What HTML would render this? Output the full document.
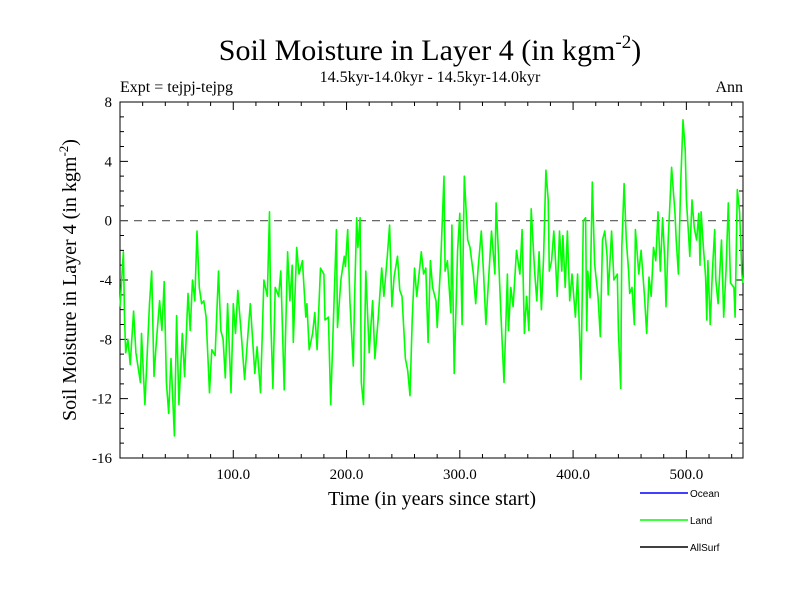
<!DOCTYPE html>
<html><head><meta charset="utf-8"><style>
html,body{margin:0;padding:0;background:#fff;}
svg text{font-family:"Liberation Serif",serif;}
</style></head><body>
<svg id="chart" width="800" height="600" xmlns="http://www.w3.org/2000/svg">
<text x="430" y="60" font-size="30" text-anchor="middle">Soil Moisture in Layer 4 (in kgm<tspan font-size="19" dy="-12">-2</tspan><tspan dy="12">)</tspan></text>
<text x="430" y="82" font-size="16" text-anchor="middle">14.5kyr-14.0kyr - 14.5kyr-14.0kyr</text>
<text x="120" y="92" font-size="16">Expt = tejpj-tejpg</text>
<text x="743" y="92" font-size="16" text-anchor="end">Ann</text>
<g id="axes"></g>
<g id="series"></g>
<text x="432" y="505" font-size="20" text-anchor="middle">Time (in years since start)</text>
<text transform="translate(76,280) rotate(-90)" font-size="20" text-anchor="middle">Soil Moisture in Layer 4 (in kgm<tspan font-size="13" dy="-8">-2</tspan><tspan dy="8">)</tspan></text>
<g font-family="Liberation Sans, sans-serif">
<line x1="640" y1="493" x2="688" y2="493" stroke="#0000ff" stroke-width="1.5"/>
<text x="690" y="497" font-size="10" style="font-family:'Liberation Sans',sans-serif">Ocean</text>
<line x1="640" y1="520" x2="688" y2="520" stroke="#00ff00" stroke-width="1.5"/>
<text x="690" y="524" font-size="10" style="font-family:'Liberation Sans',sans-serif">Land</text>
<line x1="640" y1="547" x2="688" y2="547" stroke="#000" stroke-width="1.5"/>
<text x="690" y="551" font-size="10" style="font-family:'Liberation Sans',sans-serif">AllSurf</text>
</g>
</svg>
<script>
const years=[0,3,4,5,7,9,12,14,18,19,22,26,28,30,32,35,37,39,41,43,45,48,50,52,55,57,60,62,64,66,68,70,72,74,76,79,81,84,87,89,91,93,95,98,100,102,104,107,110,113,115,119,121,124,127,130,132,133,135,137,140,142,145,148,150,152,153,156,158,161,164,165,167,170,172,174,177,180,181,184,186,188,191,192,195,198,199,201,203,206,207,209,210,212,213,215,217,220,222,223,225,228,231,233,236,238,240,242,245,247,249,252,254,256,258,260,262,266,268,270,272,274,276,279,280,283,286,287,289,292,293,295,298,300,302,304,307,309,312,314,316,319,321,323,325,328,331,332,334,336,338,339,342,343,345,347,350,353,355,357,359,361,363,366,368,370,372,374,376,378,379,381,383,384,386,388,390,391,393,395,397,399,402,404,407,409,411,412,413,415,417,419,422,424,426,428,430,431,434,436,439,440,442,443,445,447,449,450,452,454,455,458,460,463,465,467,469,471,473,475,477,479,481,482,484,487,490,491,493,495,497,499,500,502,503,505,507,509,511,512,513,515,517,518,519,521,523,525,526,528,531,533,535,537,539,542,543,545,547,549,550];
const values=[-5.8,-2.1,-6.5,-8.9,-8.0,-9.7,-6.1,-8.9,-10.9,-7.6,-12.4,-5.6,-3.4,-10.5,-8.3,-5.4,-7.4,-4.1,-10.9,-13.0,-9.3,-14.5,-6.4,-12.4,-7.6,-10.5,-4.9,-7.4,-4.0,-5.4,-0.7,-4.5,-5.6,-5.4,-6.5,-11.6,-8.7,-9.1,-3.4,-7.4,-8.0,-10.6,-5.6,-11.6,-5.6,-7.6,-4.7,-7.6,-10.7,-7.6,-5.6,-10.3,-8.5,-11.6,-4.0,-5.1,0.6,-6.5,-11.3,-4.5,-5.1,-3.4,-11.4,-2.1,-5.4,-3.0,-8.2,-1.8,-3.6,-2.7,-6.5,-5.6,-8.7,-7.6,-6.2,-8.7,-3.2,-3.6,-6.7,-6.5,-12.4,-7.6,-0.6,-7.2,-4.0,-2.4,-3.1,-0.6,-5.4,-9.8,-5.4,0.2,-1.8,0.2,-10.9,-12.4,-3.4,-8.9,-6.5,-5.4,-9.3,-6.5,-3.2,-5.1,-2.4,-0.3,-5.8,-3.8,-2.4,-4.7,-5.1,-9.3,-10.1,-11.8,-6.7,-3.2,-5.1,-2.1,-3.6,-3.2,-8.2,-2.7,-4.5,-5.4,-7.2,-3.0,3.0,-3.4,-2.7,-6.2,-0.3,-10.3,-2.0,0.5,-7.0,3.0,-1.3,-1.8,-3.6,-5.6,-3.4,-0.7,-3.6,-7.0,-4.5,-0.7,-3.6,1.2,-2.0,-5.8,-9.3,-10.9,-3.6,-7.4,-4.5,-5.8,-2.0,-3.6,-0.6,-7.6,-5.1,-7.4,0.8,-3.4,-5.4,-2.1,-6.0,-2.4,3.4,1.4,-3.4,-2.7,-0.7,-2.0,-5.1,-0.7,-3.4,-1.0,-4.5,-0.7,-5.4,-3.6,-6.5,-3.6,-10.7,0.0,0.2,-7.4,-3.4,-5.2,2.6,-2.9,-5.1,-7.8,-1.3,-0.7,-2.4,-5.0,-0.7,-4.0,-3.6,-7.4,-11.3,-1.8,2.5,-1.3,-3.4,-4.9,-4.5,-7.0,-0.6,-3.6,-2.0,-5.1,-7.6,-3.8,-5.1,-1.8,-2.7,0.6,-3.4,0.2,-2.7,-5.8,-1.3,3.6,0.5,-1.3,-3.6,2.5,6.8,4.8,1.4,-1.0,-2.4,1.4,-0.5,-1.3,0.5,-3.0,0.6,-1.8,-3.8,-6.7,-2.7,-7.0,-3.4,-0.6,-4.0,-5.6,-1.3,-6.5,-3.4,1.2,-4.2,-4.5,-6.5,2.1,0.6,-3.6,-4.2];
const yTickLabels=["-16","-12","-8","-4","0","4","8"];
const xTickLabels=["100.0","200.0","300.0","400.0","500.0"];
const L=120,R=743,T=102,B=458,XMAX=550,YMIN=-16,YMAX=8;
const xs=v=>L+(v/XMAX)*(R-L);
const ys=v=>B-(v-YMIN)/(YMAX-YMIN)*(B-T);
const NS="http://www.w3.org/2000/svg";
const axes=document.getElementById('axes');
function mk(tag,attrs,parent){const e=document.createElementNS(NS,tag);for(const k in attrs)e.setAttribute(k,attrs[k]);parent.appendChild(e);return e;}
const frame=mk('rect',{x:L,y:T,width:R-L,height:B-T,fill:'none',stroke:'#000','stroke-width':1},axes);


let tp='';
for(let v=YMIN;v<=YMAX;v++){const y=ys(v);const len=(v%4===0)?8:4;tp+=`M${L},${y}h${len}M${R},${y}h${-len}`;}
for(let v=20;v<XMAX;v+=20){const x=xs(v);const len=(v%100===0)?8:4;tp+=`M${x},${B}v${-len}M${x},${T}v${len}`;}
const ticks=mk('path',{d:tp,stroke:'#000','stroke-width':1,fill:'none'},axes);


yTickLabels.forEach(s=>{const t=mk('text',{x:L-8,y:ys(+s)+5,'font-size':15,'text-anchor':'end'},axes);t.textContent=s;

});
xTickLabels.forEach(s=>{const t=mk('text',{x:xs(+s),y:B+21,'font-size':15,'text-anchor':'middle'},axes);t.textContent=s;

});
const zl=mk('line',{x1:L,x2:R,y1:ys(0),y2:ys(0),stroke:'#555','stroke-width':1.2,'stroke-dasharray':'8,6'},axes);


const d=years.map((yr,i)=>(i?'L':'M')+xs(yr).toFixed(1)+','+ys(values[i]).toFixed(1)).join('');
const line=mk('path',{d:d,stroke:'#00ff00','stroke-width':1.6,fill:'none','stroke-linejoin':'round'},document.getElementById('series'));


</script>
</body></html>
